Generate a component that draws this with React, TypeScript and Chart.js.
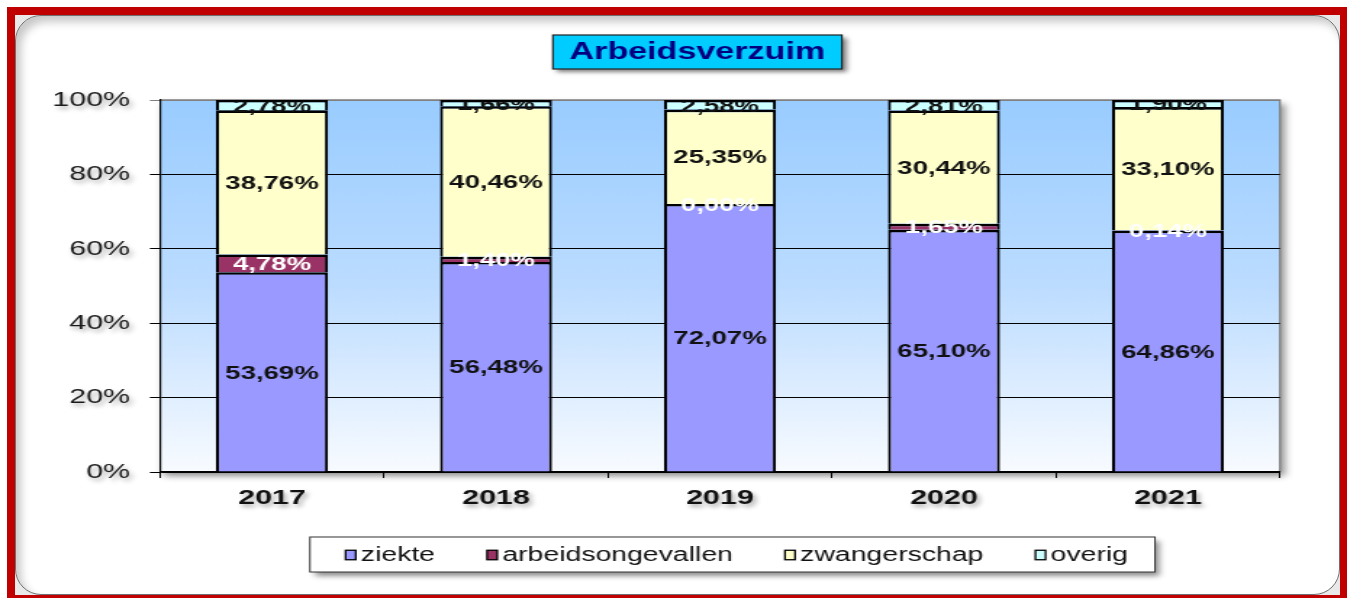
import React, { useEffect, useRef } from 'react';
import { Chart, registerables } from 'chart.js';

Chart.register(...registerables);

// ---- data ----
const categories = ['2017', '2018', '2019', '2020', '2021'];
const ziekte = [53.69, 56.48, 72.07, 65.1, 64.86];
const arbeidsongevallen = [4.78, 1.4, 0.0, 1.65, 0.14];
const zwangerschap = [38.76, 40.46, 25.35, 30.44, 33.1];
const overig = [2.78, 1.66, 2.58, 2.81, 1.9];
const seriesNames = ['ziekte', 'arbeidsongevallen', 'zwangerschap', 'overig'];
const seriesValues = [ziekte, arbeidsongevallen, zwangerschap, overig];
const seriesColors = ['#9999FF', '#993366', '#FFFFCC', '#CCFFFF'];
const labelColors = ['#111111', '#FFFFFF', '#111111', '#111111'];
const yTickStep = 20;
const chartTitle = 'Arbeidsverzuim';

// ---- layout (the reference picture is horizontally stretched) ----
const S = 1.45;
const WD = 1347;
const HD = 598;
const W = Math.round(WD / S);
const FONT = '"Liberation Sans", Arial, Helvetica, sans-serif';

const fmt = (v: number) => v.toFixed(2).replace('.', ',') + '%';

const decorPlugin = {
  id: 'decor',
  beforeDraw(chart: any) {
    const { ctx, chartArea: ca } = chart;
    ctx.save();
    // plot area shadow + gradient
    ctx.shadowColor = 'rgba(0,0,0,0.45)';
    ctx.shadowBlur = 6;
    ctx.shadowOffsetX = 3;
    ctx.shadowOffsetY = 4;
    const g = ctx.createLinearGradient(0, ca.top, 0, ca.bottom);
    g.addColorStop(0, '#99CCFF');
    g.addColorStop(0.5, '#BCDCFF');
    g.addColorStop(1, '#F8FBFF');
    ctx.fillStyle = g;
    ctx.fillRect(ca.left, ca.top, ca.right - ca.left, ca.bottom - ca.top);
    ctx.shadowColor = 'transparent';
    ctx.strokeStyle = '#808080';
    ctx.lineWidth = 1.3;
    ctx.beginPath();
    ctx.moveTo(ca.left, ca.top);
    ctx.lineTo(ca.right, ca.top);
    ctx.lineTo(ca.right, ca.bottom);
    ctx.stroke();
    ctx.restore();
  },
  afterDatasetsDraw(chart: any) {
    const { ctx, chartArea: ca } = chart;
    ctx.save();
    ctx.beginPath();
    ctx.rect(ca.left, ca.top + 1.5, ca.right - ca.left, ca.bottom - ca.top);
    ctx.clip();
    ctx.font = `bold 19px ${FONT}`;
    ctx.textAlign = 'center';
    ctx.textBaseline = 'middle';
    chart.data.datasets.forEach((ds: any, i: number) => {
      const meta = chart.getDatasetMeta(i);
      meta.data.forEach((bar: any, j: number) => {
        const v = ds.data[j] as number;
        const { x, y, base } = bar.getProps(['x', 'y', 'base'], true);
        ctx.fillStyle = labelColors[i];
        ctx.fillText(fmt(v), x, (y + base) / 2 + 1.5);
      });
    });
    ctx.restore();
    // soft shadow for the axis labels drawn next (ticks z = 1)
    ctx.shadowColor = 'rgba(0,0,0,0.35)';
    ctx.shadowBlur = 4;
    ctx.shadowOffsetX = 2;
    ctx.shadowOffsetY = 3;
  },
  afterDraw(chart: any) {
    const { ctx, chartArea: ca } = chart;
    ctx.shadowColor = 'transparent';
    ctx.shadowBlur = 0;
    ctx.shadowOffsetX = 0;
    ctx.shadowOffsetY = 0;
    const mid = (ca.left + ca.right) / 2;

    // title box
    ctx.save();
    ctx.font = `bold 23.5px ${FONT}`;
    const tw = 199.3;
    const tx = mid - 15.6 - tw / 2;
    const ty = 35;
    const th = 34;
    ctx.shadowColor = 'rgba(0,0,0,0.5)';
    ctx.shadowBlur = 4;
    ctx.shadowOffsetX = 3;
    ctx.shadowOffsetY = 3;
    ctx.fillStyle = '#00CCFF';
    ctx.fillRect(tx, ty, tw, th);
    ctx.shadowColor = 'transparent';
    ctx.strokeStyle = '#222';
    ctx.lineWidth = 1.2;
    ctx.strokeRect(tx, ty, tw, th);
    ctx.fillStyle = '#000080';
    ctx.textAlign = 'center';
    ctx.textBaseline = 'middle';
    ctx.fillText(chartTitle, tx + tw / 2, ty + th / 2 + 1);
    ctx.restore();

    // legend box
    ctx.save();
    const bw = 582.8;
    const bx = mid + 8.6 - bw / 2;
    const by = 537;
    const bh = 35;
    ctx.shadowColor = 'rgba(0,0,0,0.45)';
    ctx.shadowBlur = 5;
    ctx.shadowOffsetX = 3;
    ctx.shadowOffsetY = 4;
    ctx.fillStyle = '#FFFFFF';
    ctx.fillRect(bx, by, bw, bh);
    ctx.shadowColor = 'transparent';
    ctx.strokeStyle = '#333';
    ctx.lineWidth = 1;
    ctx.strokeRect(bx, by, bw, bh);
    ctx.font = `19.6px ${FONT}`;
    const sqW = 7;
    const sqH = 9.5;
    const gapSq = 3.5;
    const gapItem = 35.9;
    const names = chart.data.datasets.map((d: any) => d.label as string);
    const widths = names.map((n: string) => ctx.measureText(n).width);
    let total = 0;
    widths.forEach((w: number, i: number) => {
      total += sqW + gapSq + w + (i < widths.length - 1 ? gapItem : 0);
    });
    let x = bx + bw / 2 - total / 2 + 3;
    const cy = by + bh / 2 + 0.5;
    ctx.textBaseline = 'middle';
    ctx.textAlign = 'left';
    chart.data.datasets.forEach((d: any, i: number) => {
      ctx.fillStyle = d.backgroundColor;
      ctx.fillRect(x, cy - sqH / 2, sqW, sqH);
      ctx.strokeStyle = '#000';
      ctx.lineWidth = 1.3;
      ctx.strokeRect(x, cy - sqH / 2, sqW, sqH);
      ctx.fillStyle = '#111';
      ctx.fillText(names[i], x + sqW + gapSq, cy + 1);
      x += sqW + gapSq + widths[i] + gapItem;
    });
    ctx.restore();
  },
};

export default function App() {
  const ref = useRef<HTMLCanvasElement>(null);

  useEffect(() => {
    const canvas = ref.current;
    if (!canvas) return;
    Chart.defaults.font.family = FONT;
    const chart = new Chart(canvas, {
      type: 'bar',
      data: {
        labels: categories,
        datasets: seriesNames.map((name, i) => ({
          label: name,
          data: seriesValues[i],
          backgroundColor: seriesColors[i],
          borderColor: '#000000',
          borderWidth: { top: 2.6, left: 2.1, right: 2.1, bottom: 0 },
          borderSkipped: 'start',
          barPercentage: 0.5,
          categoryPercentage: 1.0,
        })),
      },
      options: {
        responsive: false,
        animation: false,
        devicePixelRatio: 1,
        layout: { padding: { left: 0, top: 100, right: W - 1280 / S, bottom: 76 } },
        plugins: {
          legend: { display: false },
          title: { display: false },
          tooltip: { enabled: false },
        },
        scales: {
          x: {
            stacked: true,
            grid: {
              display: true,
              drawOnChartArea: false,
              drawTicks: true,
              tickLength: 6,
              color: '#000',
              lineWidth: 1,
              offset: true,
            },
            border: { display: true, color: '#000', width: 1.2 },
            ticks: {
              z: 1,
              color: '#111',
              padding: 7.5,
              maxRotation: 0,
              font: { family: FONT, size: 21, weight: 'bold' },
            },
            afterFit: (s: any) => {
              s.height = 50;
            },
          },
          y: {
            stacked: true,
            min: 0,
            max: 100,
            grid: {
              color: (c: any) => (c.tick && c.tick.value === 100 ? '#808080' : '#000'),
              lineWidth: 1,
              tickLength: 7,
            },
            border: { display: true, color: '#000', width: 1.2 },
            ticks: {
              z: 1,
              stepSize: yTickStep,
              color: '#1a1a1a',
              padding: 13.6,
              font: { family: FONT, size: 21 },
              callback: (v: any) => `${v}%`,
            },
            afterFit: (s: any) => {
              s.width = 160 / S;
            },
          },
        },
      } as any,
      plugins: [decorPlugin],
    });
    return () => chart.destroy();
  }, []);

  return (
    <div
      style={{
        position: 'absolute',
        left: 0,
        top: 0,
        width: WD,
        height: HD,
        overflow: 'hidden',
        background: '#fff',
      }}
    >
      <div
        style={{
          position: 'absolute',
          left: 7,
          top: 7,
          width: 1340,
          height: 591,
          boxSizing: 'border-box',
          borderStyle: 'solid',
          borderColor: '#C00000',
          borderWidth: '8px 7px 3px 8px',
          background: '#e9e9e9',
        }}
      />
      <div
        style={{
          position: 'absolute',
          left: 15,
          top: 15,
          width: 1325,
          height: 580,
          boxSizing: 'border-box',
          borderRadius: 26,
          border: '1.5px solid #6e6e6e',
          background: '#fff',
          boxShadow: 'inset 5px 6px 8px rgba(0,0,0,0.22)',
        }}
      />
      <canvas
        ref={ref}
        width={W}
        height={HD}
        style={{ position: 'absolute', left: 0, top: 0, width: WD, height: HD }}
      />
    </div>
  );
}
